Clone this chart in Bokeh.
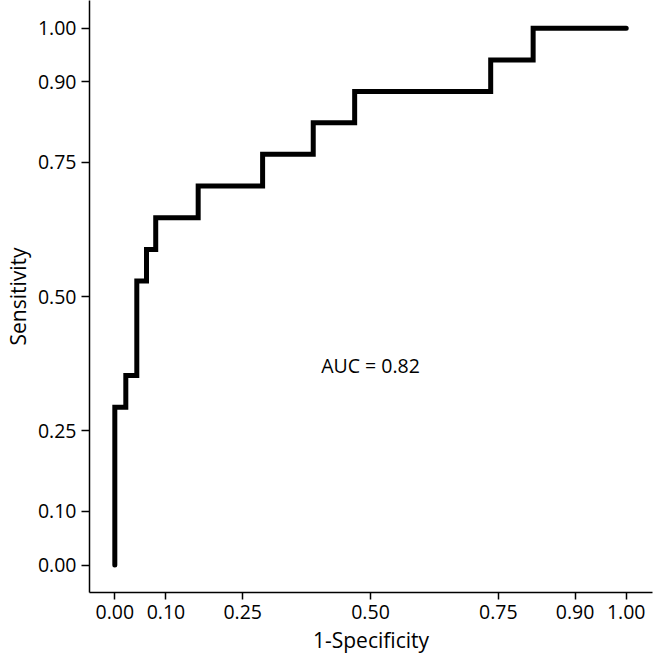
from bokeh.plotting import figure
from bokeh.models import FixedTicker, NumeralTickFormatter, Range1d
from bokeh.core.properties import value
from bokeh.embed import file_html
from bokeh.resources import INLINE

# ROC curve data: x position of each rise and sensitivity level after it
rise_fpr = [0.0, 0.0215, 0.043, 0.062, 0.080, 0.163, 0.289, 0.388, 0.469, 0.735, 0.818]
level_tpr = [0.294, 0.353, 0.529, 0.588, 0.647, 0.706, 0.765, 0.824, 0.882, 0.941, 1.0]
end_fpr = 1.0
ticks = [0.0, 0.10, 0.25, 0.50, 0.75, 0.90, 1.00]
auc_text = "AUC = 0.82"

# build step path
xs, ys = [0.0], [0.0]
for fx, ty in zip(rise_fpr, level_tpr):
    xs.append(fx); ys.append(ys[-1])
    xs.append(fx); ys.append(ty)
xs.append(end_fpr); ys.append(ys[-1])

FONT = "Open Sans"

p = figure(width=654, height=657, output_backend="svg", toolbar_location=None,
           x_range=Range1d(-0.0495, 1.0514), y_range=Range1d(-0.0511, 1.0516),
           min_border_left=89, min_border_right=2, min_border_top=0, min_border_bottom=65)
p.outline_line_color = None
p.xgrid.visible = False
p.ygrid.visible = False

p.line(xs, ys, line_width=5, line_color="black", line_cap="round", line_join="miter")

p.text(x=[0.5], y=[0.372], text=[auc_text], text_font=value(FONT),
       text_font_size="19.5px", text_color="black", text_align="center",
       text_baseline="middle")

for ax in (p.xaxis[0], p.yaxis[0]):
    ax.ticker = FixedTicker(ticks=ticks)
    ax.formatter = NumeralTickFormatter(format="0.00")
    ax.minor_tick_line_color = None
    ax.major_tick_in = 0
    ax.major_tick_out = 8
    ax.major_tick_line_width = 1.5
    ax.axis_line_width = 1.5
    ax.axis_line_color = "black"
    ax.major_tick_line_color = "black"
    ax.major_label_text_font = FONT
    ax.major_label_text_font_size = "19.5px"
    ax.major_label_text_color = "black"
    ax.axis_label_text_font = FONT
    ax.axis_label_text_font_size = "21px"
    ax.axis_label_text_font_style = "normal"
    ax.axis_label_text_color = "black"

p.xaxis.major_tick_out = 7
p.xaxis.major_label_standoff = 5
p.xaxis.axis_label_standoff = 4
p.yaxis.major_label_standoff = 5
p.yaxis.axis_label_standoff = 3

p.xaxis.axis_label = "1-Specificity"
p.yaxis.axis_label = "Sensitivity"

open("out.html", "w").write(file_html(p, INLINE))
